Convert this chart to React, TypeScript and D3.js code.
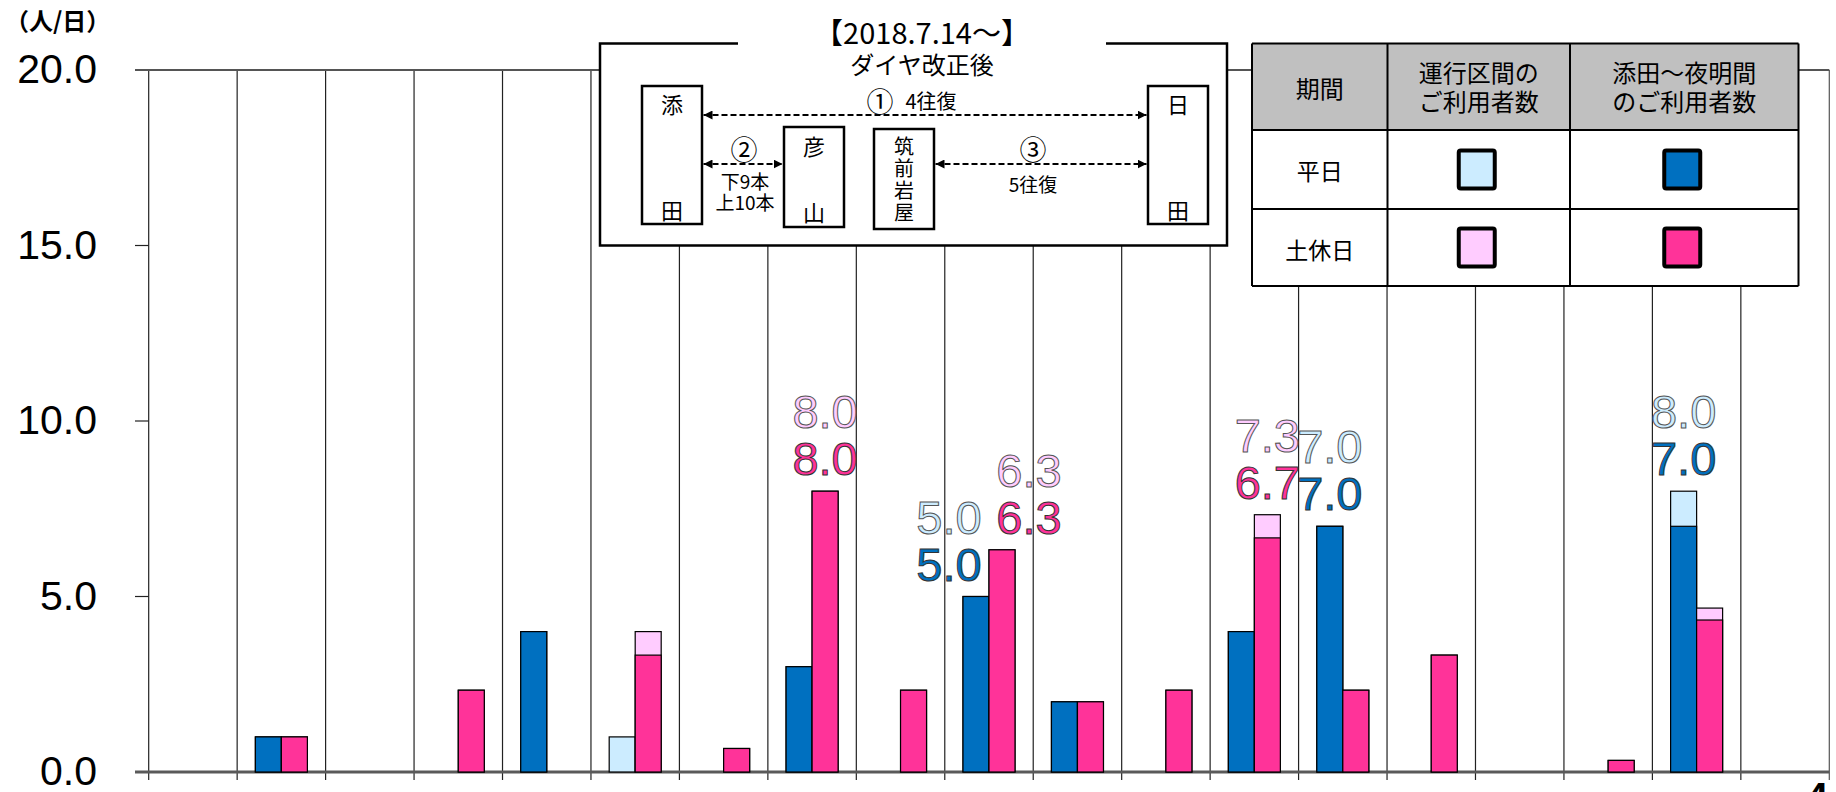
import React from "react";
import * as d3 from "d3";

// ---- data ----
const categories = ["c1","c2","c3","c4","c5","c6","c7","c8","c9","c10","c11","c12","c13","c14","c15","c16","c17","c18","c19"];
// 平日 運行区間のご利用者数 (total) / 添田～夜明間のご利用者数
const weekdayTotal = [0, 1, 0, 0, 4, 1, 0, 3, 0, 5, 2, 0, 4, 7, 0, 0, 0, 8, 0];
const weekdaySection = [0, 1, 0, 0, 4, 0, 0, 3, 0, 5, 2, 0, 4, 7, 0, 0, 0, 7, 0];
// 土休日
const holidayTotal = [0, 1, 0, 2.33, 0, 4, 0.67, 8, 2.33, 6.33, 2, 2.33, 7.33, 2.33, 3.33, 0, 0.33, 4.67, 0];
const holidaySection = [0, 1, 0, 2.33, 0, 3.33, 0.67, 8, 2.33, 6.33, 2, 2.33, 6.67, 2.33, 3.33, 0, 0.33, 4.33, 0];
const yTicks = [0, 5, 10, 15, 20];
const labelThreshold = 5;

const W = 1836, H = 792;
const LIGHT_BLUE = "#CCECFF", DARK_BLUE = "#0070C0", LIGHT_PINK = "#FFCCFF", PINK = "#FF3399";
const JP = "'Noto Sans CJK JP', 'Noto Sans', sans-serif";
const AR = "'Liberation Sans', Arial, sans-serif";

export default function App() {
  const x = d3.scaleBand<string>().domain(categories).range([148.7, 1829.3]).paddingInner(0).paddingOuter(0);
  const bw = x.bandwidth();
  const sub = d3.scaleBand<string>().domain(["weekday", "holiday"]).range([(bw - 52) / 2, (bw + 52) / 2]);
  const y = d3.scaleLinear().domain([0, 20]).range([772, 70]);

  const series = [
    { key: "weekday", total: weekdayTotal, section: weekdaySection, light: LIGHT_BLUE, dark: DARK_BLUE },
    { key: "holiday", total: holidayTotal, section: holidaySection, light: LIGHT_PINK, dark: PINK },
  ];

  const boundaries = d3.range(categories.length + 1).map((i) =>
    i < categories.length ? (x(categories[i]) as number) : (x(categories[categories.length - 1]) as number) + bw
  );

  const bars: React.ReactNode[] = [];
  const labels: React.ReactNode[] = [];
  categories.forEach((c, i) => {
    const both = series.every((s) => s.total[i] >= labelThreshold);
    series.forEach((s, si) => {
      const bx = (x(c) as number) + (sub(s.key) as number);
      const w = sub.bandwidth();
      if (s.total[i] > 0) {
        bars.push(
          <rect key={`t${s.key}${i}`} x={bx} y={y(s.total[i])} width={w} height={y(0) - y(s.total[i])}
            fill={s.light} stroke="#000" strokeWidth={1.2} />
        );
      }
      if (s.section[i] > 0) {
        bars.push(
          <rect key={`s${s.key}${i}`} x={bx} y={y(s.section[i])} width={w} height={y(0) - y(s.section[i])}
            fill={s.dark} stroke="#000" strokeWidth={1.2} />
        );
      }
      if (s.total[i] >= labelThreshold) {
        const cx = bx + w / 2 + (both ? (si === 0 ? -27 : 27) : 0);
        const base = y(s.total[i]) - 16;
        labels.push(
          <text key={`lt${s.key}${i}`} x={cx} y={base - 47} textAnchor="middle" fontFamily={AR} fontSize={47}
            fill={s.light} stroke="#555" strokeWidth={1}>{s.total[i].toFixed(1)}</text>
        );
        labels.push(
          <text key={`ls${s.key}${i}`} x={cx} y={base} textAnchor="middle" fontFamily={AR} fontSize={47}
            fill={s.dark} stroke="#333" strokeWidth={1}>{s.section[i].toFixed(1)}</text>
        );
      }
    });
  });

  // legend table geometry
  const lx = [1252, 1387.5, 1570, 1798.5];
  const ly = [43.5, 130, 209, 286];

  return (
    <svg width={W} height={H} style={{ position: "absolute", left: 0, top: 0, background: "#fff" }}>
      <defs>
        <marker id="ah" viewBox="0 0 10 10" refX="10" refY="5" markerWidth="9" markerHeight="9"
          markerUnits="userSpaceOnUse" orient="auto-start-reverse">
          <path d="M0,0 L10,5 L0,10 z" fill="#000" />
        </marker>
      </defs>
      <rect x={0} y={0} width={W} height={H} fill="#fff" />

      {/* unit */}
      <text x={5} y={30} fontFamily={JP} fontSize={24} fontWeight="bold" fill="#000">（人/日）</text>

      {/* vertical gridlines / category ticks */}
      {boundaries.map((bx, i) => (
        <line key={`g${i}`} x1={bx} x2={bx} y1={y(20)} y2={780} stroke={i === categories.length ? "#555" : "#222"} strokeWidth={1.2} />
      ))}
      {/* y ticks */}
      {yTicks.map((t) => (
        <g key={`yt${t}`}>
          <line x1={135} x2={148.7} y1={y(t)} y2={y(t)} stroke="#222" strokeWidth={1.2} />
          <text x={97} y={y(t) - 1} textAnchor="end" dominantBaseline="central" fontFamily={AR} fontSize={41} fill="#000">
            {t.toFixed(1)}
          </text>
        </g>
      ))}
      {/* top border and x axis */}
      <line x1={135} x2={1829.3} y1={y(20)} y2={y(20)} stroke="#555" strokeWidth={2} />
      <line x1={135} x2={1829.3} y1={y(0)} y2={y(0)} stroke="#5a5a5a" strokeWidth={3} />

      {bars}
      {labels}

      {/* inset: timetable diagram */}
      <g>
        <rect x={600} y={43.5} width={627} height={202} fill="#fff" />
        <path d="M738,43.5 H600 V245.5 H1227 V43.5 H1106" fill="none" stroke="#000" strokeWidth={2.5} />
        <text x={922} y={31} textAnchor="middle" dominantBaseline="central" fontFamily={JP} fontSize={29}>【2018.7.14～】</text>
        <text x={922} y={63} textAnchor="middle" dominantBaseline="central" fontFamily={JP} fontSize={24}>ダイヤ改正後</text>

        {/* stations */}
        <rect x={642} y={86} width={60} height={138} fill="#fff" stroke="#000" strokeWidth={2.5} />
        <text x={672} y={103} textAnchor="middle" dominantBaseline="central" fontFamily={JP} fontSize={22}>添</text>
        <text x={672} y={209} textAnchor="middle" dominantBaseline="central" fontFamily={JP} fontSize={22}>田</text>

        <rect x={784} y={127} width={60} height={100} fill="#fff" stroke="#000" strokeWidth={2.5} />
        <text x={814} y={145} textAnchor="middle" dominantBaseline="central" fontFamily={JP} fontSize={22}>彦</text>
        <text x={814} y={211} textAnchor="middle" dominantBaseline="central" fontFamily={JP} fontSize={22}>山</text>

        <rect x={874} y={129} width={60} height={100} fill="#fff" stroke="#000" strokeWidth={2.5} />
        <text x={904} y={136} fontFamily={JP} fontSize={20} letterSpacing={2.3}
          style={{ writingMode: "vertical-rl" }}>筑前岩屋</text>

        <rect x={1148} y={86} width={60} height={138} fill="#fff" stroke="#000" strokeWidth={2.5} />
        <text x={1178} y={103} textAnchor="middle" dominantBaseline="central" fontFamily={JP} fontSize={22}>日</text>
        <text x={1178} y={209} textAnchor="middle" dominantBaseline="central" fontFamily={JP} fontSize={22}>田</text>

        {/* routes */}
        <line x1={703.5} x2={1146.5} y1={115} y2={115} stroke="#000" strokeWidth={2} strokeDasharray="6 3"
          markerStart="url(#ah)" markerEnd="url(#ah)" />
        <text x={880} y={100} textAnchor="middle" dominantBaseline="central" fontFamily={JP} fontSize={27}>①</text>
        <text x={931} y={100} textAnchor="middle" dominantBaseline="central" fontFamily={JP} fontSize={20}>4往復</text>

        <line x1={703.5} x2={782.5} y1={164} y2={164} stroke="#000" strokeWidth={2} strokeDasharray="6 3"
          markerStart="url(#ah)" markerEnd="url(#ah)" />
        <text x={744} y={148} textAnchor="middle" dominantBaseline="central" fontFamily={JP} fontSize={27}>②</text>
        <text x={745} y={189} textAnchor="middle" fontFamily={JP} fontSize={19}>
          <tspan x={745}>下9本</tspan>
          <tspan x={745} dy={21}>上10本</tspan>
        </text>

        <line x1={935.5} x2={1146.5} y1={164} y2={164} stroke="#000" strokeWidth={2} strokeDasharray="6 3"
          markerStart="url(#ah)" markerEnd="url(#ah)" />
        <text x={1033} y={148} textAnchor="middle" dominantBaseline="central" fontFamily={JP} fontSize={27}>③</text>
        <text x={1033} y={183} textAnchor="middle" dominantBaseline="central" fontFamily={JP} fontSize={19}>5往復</text>
      </g>

      {/* legend table */}
      <g>
        <rect x={lx[0]} y={ly[0]} width={lx[3] - lx[0]} height={ly[1] - ly[0]} fill="#C0C0C0" />
        <rect x={lx[0]} y={ly[1]} width={lx[3] - lx[0]} height={ly[3] - ly[1]} fill="#fff" />
        {ly.map((yy, k) => (
          <line key={`lh${k}`} x1={lx[0]} x2={lx[3]} y1={yy} y2={yy} stroke="#000" strokeWidth={2} />
        ))}
        {lx.map((xx, k) => (
          <line key={`lv${k}`} x1={xx} x2={xx} y1={ly[0]} y2={ly[3]} stroke="#000" strokeWidth={2} />
        ))}
        <text x={(lx[0] + lx[1]) / 2} y={87} textAnchor="middle" dominantBaseline="central" fontFamily={JP} fontSize={24}>期間</text>
        <text x={(lx[1] + lx[2]) / 2} y={82} textAnchor="middle" fontFamily={JP} fontSize={24}>
          <tspan x={(lx[1] + lx[2]) / 2}>運行区間の</tspan>
          <tspan x={(lx[1] + lx[2]) / 2} dy={29}>ご利用者数</tspan>
        </text>
        <text x={(lx[2] + lx[3]) / 2} y={82} textAnchor="middle" fontFamily={JP} fontSize={24}>
          <tspan x={(lx[2] + lx[3]) / 2}>添田～夜明間</tspan>
          <tspan x={(lx[2] + lx[3]) / 2} dy={29}>のご利用者数</tspan>
        </text>
        <text x={(lx[0] + lx[1]) / 2} y={170} textAnchor="middle" dominantBaseline="central" fontFamily={JP} fontSize={23}>平日</text>
        <text x={(lx[0] + lx[1]) / 2} y={249} textAnchor="middle" dominantBaseline="central" fontFamily={JP} fontSize={23}>土休日</text>
        {[
          { c: LIGHT_BLUE, col: 1, row: 1 },
          { c: DARK_BLUE, col: 2, row: 1 },
          { c: LIGHT_PINK, col: 1, row: 2 },
          { c: PINK, col: 2, row: 2 },
        ].map((s, k) => {
          const cx = (lx[s.col] + lx[s.col + 1]) / 2 - 2;
          const cy = (ly[s.row] + ly[s.row + 1]) / 2;
          return (
            <rect key={`sw${k}`} x={cx - 18} y={cy - 19} width={36} height={38} rx={2} fill={s.c} stroke="#000" strokeWidth={4} />
          );
        })}
      </g>

      {/* cut-off page mark */}
      <text x={1806} y={811} fontFamily={AR} fontSize={40} fontWeight="bold" fill="#000">4</text>
    </svg>
  );
}
